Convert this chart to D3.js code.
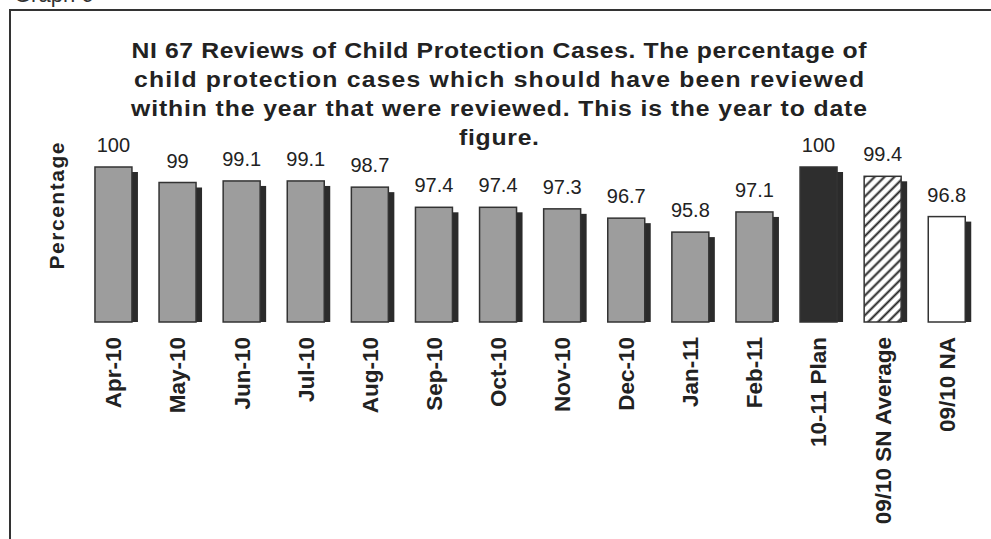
<!DOCTYPE html>
<html>
<head>
<meta charset="utf-8">
<script src="https://cdn.jsdelivr.net/npm/d3@7"></script>
<style>
  body { margin: 0; background: #fff; }
  svg { display: block; font-family: "Liberation Sans", Arial, sans-serif; }
</style>
</head>
<body>
<div id="viz_div"></div>
<script>
// DATA
// ---------------------------------------------------------------------------------------------
const categories = ["Apr-10", "May-10", "Jun-10", "Jul-10", "Aug-10", "Sep-10", "Oct-10",
    "Nov-10", "Dec-10", "Jan-11", "Feb-11", "10-11 Plan", "09/10 SN Average", "09/10 NA"];
const values = [100, 99, 99.1, 99.1, 98.7, 97.4, 97.4, 97.3, 96.7, 95.8, 97.1, 100, 99.4, 96.8];
const kinds = ["month", "month", "month", "month", "month", "month", "month",
    "month", "month", "month", "month", "plan", "average", "na"];
const titleLines = [
    "NI 67 Reviews of Child Protection Cases. The percentage of",
    "child protection cases which should have been reviewed",
    "within the year that were reviewed. This is the year to date",
    "figure."
];
const yTitle = "Percentage";
const pageLabel = "Graph 6";

// SCALES
// ---------------------------------------------------------------------------------------------
const width = 991, height = 539;

const x = d3.scaleBand()
    .domain(categories)
    .range([81.4, 978.8])
    .paddingInner(0.423)
    .paddingOuter(0.2115);

const y = d3.scaleLinear([90, 100], [322, 167]);

const fill = d3.scaleOrdinal()
    .domain(["month", "plan", "average", "na"])
    .range(["#9d9d9d", "#2e2e2e", "url(#hatch)", "#ffffff"]);

const rows = categories.map((c, i) => ({ cat: c, value: values[i], kind: kinds[i] }));

// SVG
// ---------------------------------------------------------------------------------------------
const svg = d3.select("#viz_div")
    .append("svg")
    .attr("width", width)
    .attr("height", height);

const defs = svg.append("defs");
const pat = defs.append("pattern")
    .attr("id", "hatch")
    .attr("patternUnits", "userSpaceOnUse")
    .attr("width", 7)
    .attr("height", 7)
    .attr("patternTransform", "rotate(45)");
pat.append("rect").attr("width", 7).attr("height", 7).attr("fill", "#fff");
pat.append("line")
    .attr("x1", 1.5).attr("y1", 0).attr("x2", 1.5).attr("y2", 7)
    .attr("stroke", "#222").attr("stroke-width", 2);

// frame of the scanned page (label is cut by the top edge, as in the scan)
svg.append("text")
    .attr("x", 14)
    .attr("y", 2)
    .attr("font-size", 22)
    .attr("fill", "#333")
    .text(pageLabel);

svg.append("path")
    .attr("d", `M10,${height} L10,10 L${width},10`)
    .attr("fill", "none")
    .attr("stroke", "#333")
    .attr("stroke-width", 2);

// TITLE
// ---------------------------------------------------------------------------------------------
// the scanned title is wider than the font: stretch glyphs a little, then fit each line
const titleStretch = 1.15;
const titleWidths = [735, 730, 736, 80];

svg.append("g")
    .attr("transform", `translate(499,0) scale(${titleStretch},1)`)
    .selectAll("text")
    .data(titleLines)
    .enter()
    .append("text")
    .attr("x", 0)
    .attr("y", (d, i) => 58 + i * 29)
    .attr("text-anchor", "middle")
    .attr("font-size", 21.5)
    .attr("font-weight", "bold")
    .attr("fill", "#222")
    .attr("textLength", (d, i) => titleWidths[i] / titleStretch)
    .attr("lengthAdjust", "spacing")
    .text(d => d);

// BARS (shadow + face)
// ---------------------------------------------------------------------------------------------
const bars = svg.append("g");

bars.selectAll("rect.shadow")
    .data(rows)
    .enter()
    .append("rect")
    .attr("class", "shadow")
    .attr("x", d => x(d.cat) + 6)
    .attr("y", d => y(d.value) + 5)
    .attr("width", x.bandwidth())
    .attr("height", d => y(90) - y(d.value) - 5)
    .attr("fill", "#2b2b2b");

bars.selectAll("rect.face")
    .data(rows)
    .enter()
    .append("rect")
    .attr("class", "face")
    .attr("x", d => x(d.cat))
    .attr("y", d => y(d.value))
    .attr("width", x.bandwidth())
    .attr("height", d => y(90) - y(d.value))
    .attr("fill", d => fill(d.kind))
    .attr("stroke", "#333")
    .attr("stroke-width", 1.5);

// VALUE LABELS
// ---------------------------------------------------------------------------------------------
svg.append("g").selectAll("text")
    .data(rows)
    .enter()
    .append("text")
    .attr("x", d => x(d.cat) + x.bandwidth() / 2)
    .attr("y", d => y(d.value) - 15)
    .attr("text-anchor", "middle")
    .attr("font-size", 20)
    .attr("fill", "#222")
    .text(d => d.value);

// CATEGORY LABELS (rotated)
// ---------------------------------------------------------------------------------------------
svg.append("g").selectAll("text")
    .data(rows)
    .enter()
    .append("text")
    .attr("transform", d => `translate(${x(d.cat) + x.bandwidth() / 2},337) rotate(-90)`)
    .attr("dy", "0.35em")
    .attr("text-anchor", "end")
    .attr("font-size", 22.5)
    .attr("font-weight", "bold")
    .attr("fill", "#222")
    .text(d => d.cat);

// AXIS TITLE
// ---------------------------------------------------------------------------------------------
svg.append("text")
    .attr("transform", "translate(57,206) rotate(-90)")
    .attr("dy", "0.35em")
    .attr("text-anchor", "middle")
    .attr("font-size", 21)
    .attr("font-weight", "bold")
    .attr("fill", "#222")
    .attr("textLength", 127)
    .attr("lengthAdjust", "spacing")
    .text(yTitle);
</script>
</body>
</html>
